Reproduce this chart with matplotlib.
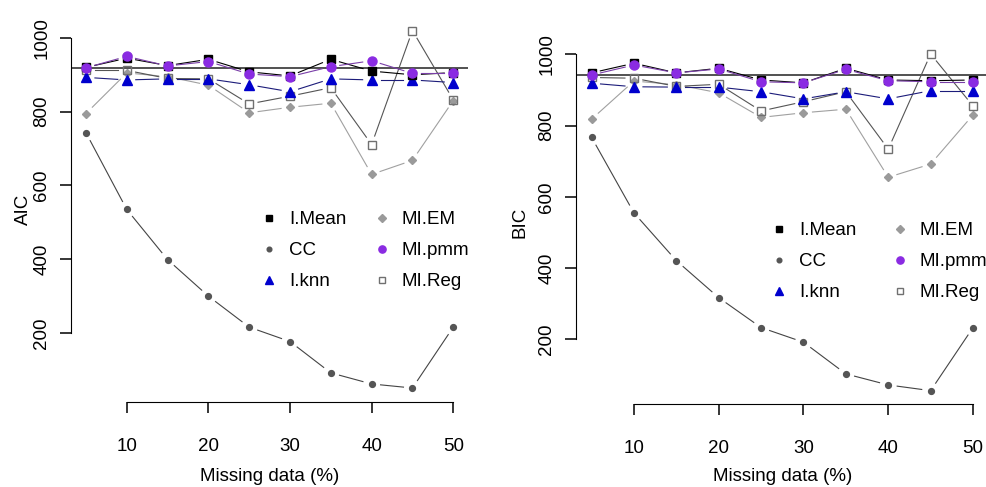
import numpy as np
import matplotlib
matplotlib.use("Agg")
import matplotlib.pyplot as plt

plt.rcParams['font.family'] = ['Liberation Sans', 'DejaVu Sans']
plt.rcParams['font.size'] = 13.5

# missing data percentages
missing = [5, 10, 15, 20, 25, 30, 35, 40, 45, 50]

# AIC values per method
aic_imean = [920, 945, 925, 942, 908, 897, 942, 910, 900, 906]
aic_cc = [743, 535, 399, 300, 216, 177, 92, 62, 51, 216]
aic_iknn = [893, 886, 889, 889, 873, 854, 889, 886, 886, 879]
aic_miem = [795, 905, 895, 872, 797, 812, 823, 630, 668, 830]
aic_mipmm = [919, 950, 924, 936, 902, 895, 922, 938, 904, 904]
aic_mireg = [912, 912, 890, 889, 821, 842, 865, 711, 1020, 832]
aic_ref = 919

# BIC values per method
bic_imean = [948, 975, 948, 961, 928, 920, 961, 928, 926, 928]
bic_cc = [767, 555, 421, 317, 233, 192, 103, 72, 56, 233]
bic_iknn = [919, 909, 908, 908, 895, 875, 895, 875, 898, 898]
bic_miem = [818, 925, 915, 892, 823, 836, 846, 655, 692, 830]
bic_mipmm = [942, 970, 948, 959, 923, 920, 958, 926, 923, 923]
bic_mireg = [935, 933, 910, 916, 841, 867, 895, 734, 1001, 855]
bic_ref = 942

labels = ['I.Mean', 'CC', 'I.knn', 'MI.EM', 'MI.pmm', 'MI.Reg']

# marker, marker size, face colour, edge colour, line colour
styles = {
    'CC': ('o', 4.2, '#555555', '#555555', '#444444'),
    'MI.EM': ('D', 4.5, '#9a9a9a', '#9a9a9a', '#a0a0a0'),
    'MI.Reg': ('s', 6.0, 'none', '#707070', '#555555'),
    'I.knn': ('^', 7.0, '#0000cd', '#0000cd', '#1c1c7a'),
    'I.Mean': ('s', 6.0, 'black', 'black', 'black'),
    'MI.pmm': ('o', 6.5, '#8a2be2', '#8a2be2', '#7a3fa8'),
}
draw_order = ['CC', 'MI.EM', 'MI.Reg', 'I.knn', 'I.Mean', 'MI.pmm']


def type_b(ax, x, y, color, gap=9):
    # like R's type="b": line segments that stop short of the points
    pts = ax.transData.transform(np.column_stack([x, y]))
    inv = ax.transData.inverted()
    for p0, p1 in zip(pts[:-1], pts[1:]):
        d = p1 - p0
        L = np.hypot(*d)
        if L <= 2 * gap:
            continue
        u = d / L
        a = inv.transform(p0 + u * gap)
        b = inv.transform(p1 - u * gap)
        ax.plot([a[0], b[0]], [a[1], b[1]], color=color, lw=0.8, zorder=2)


def panel(ax, series, ref, ylabel, xlab_y, ylab_x, leg_anchor, colspace):
    ax.set_xlim(3.2, 51.8)
    allv = np.concatenate([series[k] for k in series])
    rng = allv.max() - allv.min()
    ax.set_ylim(allv.min() - 0.04 * rng, allv.max() + 0.04 * rng)

    handles = {}
    for name in draw_order:
        m, ms, fc, ec, lc = styles[name]
        y = series[name]
        type_b(ax, missing, y, lc)
        h, = ax.plot(missing, y, ls='none', marker=m, ms=ms, mfc=fc, mec=ec,
                     mew=1.0, zorder=3)
        handles[name] = h
    ax.axhline(ref, color='#333333', lw=1.2, zorder=1)

    for s in ['top', 'right']:
        ax.spines[s].set_visible(False)
    ax.spines['left'].set_bounds(200, 1000)
    ax.spines['bottom'].set_bounds(10, 50)
    ax.set_xticks([10, 20, 30, 40, 50])
    ax.set_yticks([200, 400, 600, 800, 1000])
    ax.tick_params(axis='both', direction='out', length=8, width=1.1)
    ax.tick_params(axis='x', pad=18)
    ax.tick_params(axis='y', pad=7)
    for t in ax.get_yticklabels():
        t.set_rotation(90)
        t.set_va('center')

    ax.set_xlabel('Missing data (%)')
    ax.set_ylabel(ylabel)
    ax.xaxis.set_label_coords(0.5, xlab_y)
    ax.yaxis.set_label_coords(ylab_x, 0.5)

    leg = ax.legend([handles[k] for k in labels], labels, ncol=2, frameon=False,
                    loc='upper left', bbox_to_anchor=leg_anchor,
                    bbox_transform=fig.transFigure, borderpad=0,
                    borderaxespad=0, handlelength=1.0, handletextpad=0.55,
                    columnspacing=colspace, labelspacing=0.74, markerscale=0.8)
    return leg


fig = plt.figure(figsize=(9.87, 4.87), dpi=100)
ax1 = fig.add_axes([0.0722, 0.1739, 0.4019, 0.7928])
ax2 = fig.add_axes([0.5839, 0.1702, 0.4174, 0.7466])

aic = {'I.Mean': np.array(aic_imean), 'CC': np.array(aic_cc),
       'I.knn': np.array(aic_iknn), 'MI.EM': np.array(aic_miem),
       'MI.pmm': np.array(aic_mipmm), 'MI.Reg': np.array(aic_mireg)}
bic = {'I.Mean': np.array(bic_imean), 'CC': np.array(bic_cc),
       'I.knn': np.array(bic_iknn), 'MI.EM': np.array(bic_miem),
       'MI.pmm': np.array(bic_mipmm), 'MI.Reg': np.array(bic_mireg)}

panel(ax1, aic, aic_ref, 'AIC', -0.17, -0.10, (260 / 987, 1 - 211 / 487), 1.4)
panel(ax2, bic, bic_ref, 'BIC', -0.175, -0.117, (770 / 987, 1 - 222 / 487), 1.8)

plt.savefig('out.png', dpi=100)
